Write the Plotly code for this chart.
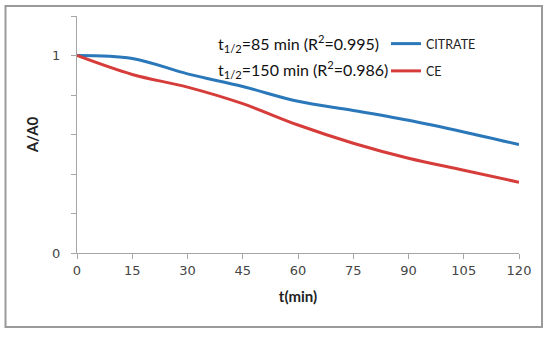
import plotly.graph_objects as go

t_min = [0, 15, 30, 45, 60, 75, 90, 105, 120]
citrate = [1.0, 0.985, 0.907, 0.843, 0.768, 0.722, 0.672, 0.613, 0.549]
ce = [1.0, 0.904, 0.84, 0.756, 0.648, 0.556, 0.48, 0.419, 0.358]
x_ticks = [0, 15, 30, 45, 60, 75, 90, 105, 120]
y_tickvals = [0, 1]
y_ticktext = ["0", "1"]
y_minor_step = 0.2
series_names = ["CITRATE", "CE"]
annotations_text = ["t<sub>1/2</sub>=85 min (R<sup>2</sup>=0.995)",
                    "t<sub>1/2</sub>=150 min (R<sup>2</sup>=0.986)"]

W, H = 550, 337
L, R, T, B = 77, 31, 16, 84
pw, ph = W - L - R, H - T - B

def px(xpix):
    return (xpix - L) / pw

def py(ypix):
    return (H - B - ypix) / ph

fig = go.Figure()
fig.add_trace(go.Scatter(x=t_min, y=citrate, name=series_names[0], mode="lines",
                         line=dict(color="#2A78BA", width=3, shape="spline", smoothing=1.0),
                         legendgroup="a"))
fig.add_trace(go.Scatter(x=t_min, y=ce, name=series_names[1], mode="lines",
                         line=dict(color="#D63D3A", width=3, shape="spline", smoothing=1.0),
                         legendgroup="b"))

axis_col = "#A6A6A6"
fig.update_xaxes(range=[0, 120], tickvals=x_ticks, showgrid=False, zeroline=False,
                 showline=True, linecolor=axis_col, linewidth=1.3, automargin=False,
                 ticks="outside", ticklen=5, tickcolor=axis_col,
                 tickfont=dict(family="DejaVu Sans", size=13, color="#454545"),
                 title=dict(text="<b>t(min)</b>", font=dict(family="Lato", size=15, color="#222"),
                            standoff=14))
fig.update_yaxes(range=[0, 1.2], tickvals=y_tickvals, ticktext=y_ticktext, showgrid=False,
                 zeroline=False, showline=True, linecolor=axis_col, linewidth=1.3, automargin=False,
                 ticks="outside", ticklen=5, tickcolor=axis_col, ticklabelstandoff=8,
                 minor=dict(tick0=0, dtick=y_minor_step, ticks="outside", ticklen=5,
                            tickcolor=axis_col, showgrid=False),
                 tickfont=dict(family="DejaVu Sans", size=13, color="#454545"),
                 title=dict(text="<b>A/A0</b>", font=dict(family="Lato", size=15, color="#222"),
                            standoff=9))

for i, txt in enumerate(annotations_text):
    fig.add_annotation(text=txt, xref="paper", yref="paper", x=px(216), y=py([43, 69][i]),
                       xanchor="left", yanchor="middle", showarrow=False,
                       font=dict(family="Lato", size=16, color="#111"))

fig.add_shape(type="rect", xref="paper", yref="paper",
              x0=px(5.5), x1=px(542), y0=py(327), y1=py(6),
              line=dict(color="#9A9A9A", width=2), fillcolor="rgba(0,0,0,0)", layer="below")

fig.update_layout(width=W, height=H, margin=dict(l=L, r=R, t=T, b=B),
                  paper_bgcolor="white", plot_bgcolor="white",
                  showlegend=True,
                  legend=dict(x=px(386), y=py(29), xanchor="left", yanchor="top",
                              font=dict(family="Lato", size=12.5, color="#222"),
                              tracegroupgap=8, bgcolor="rgba(0,0,0,0)",
                              itemwidth=30))

fig.write_html("out.html", config={"displayModeBar": False},
               post_script="document.body.style.margin='0';")
